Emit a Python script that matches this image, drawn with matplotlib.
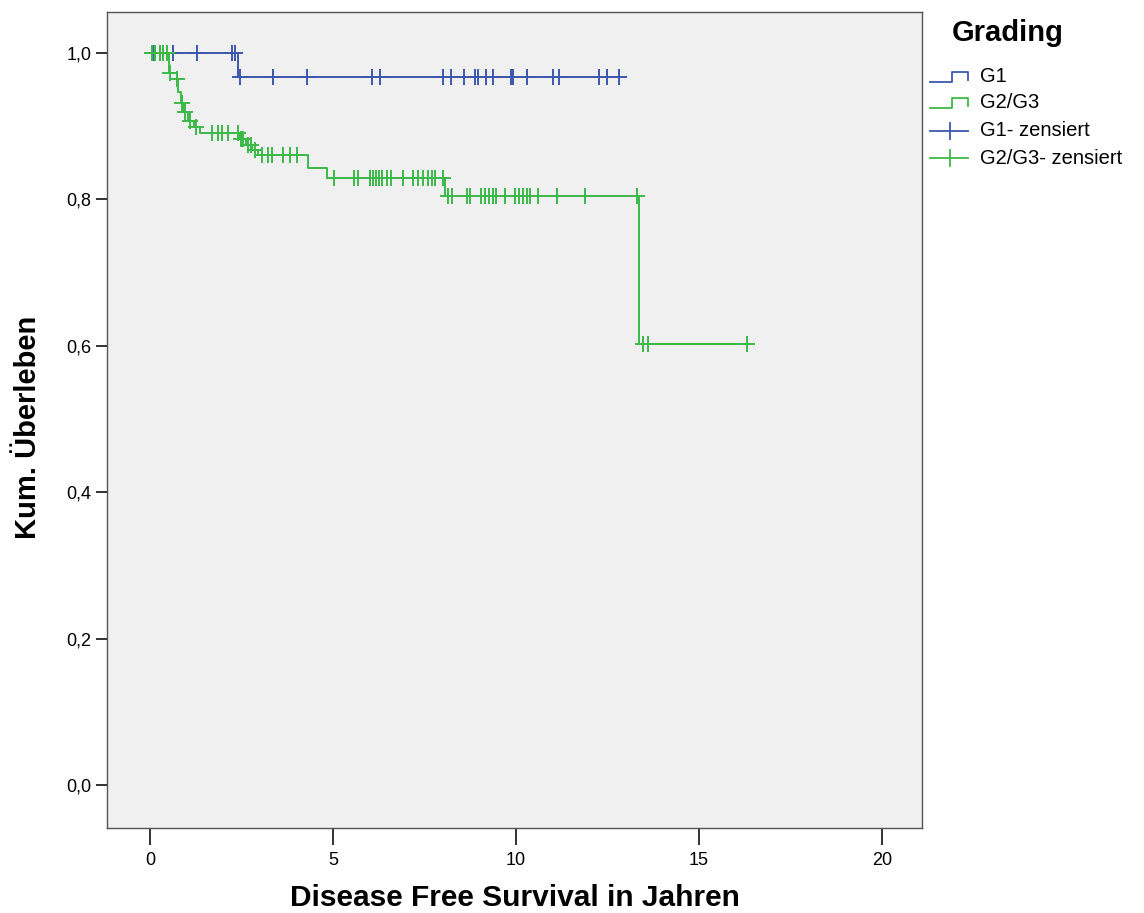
"""Kaplan-Meier: Disease Free Survival nach Grading (SPSS-Stil)."""
import numpy as np
import matplotlib
matplotlib.use("Agg")
import matplotlib.pyplot as plt  # noqa: E402

plt.rcParams["font.family"] = ["Liberation Sans", "DejaVu Sans"]

W, H = 1144, 913

# --- Daten ---
g1_event_t = [2.40]
g1_event_s = [0.967]
g1_end_t = 12.85
g1_cens_t = [0.08, 0.27, 0.63, 1.28, 2.24, 2.32, 2.46, 3.36, 4.29, 6.07, 6.28,
             8.00, 8.22, 8.58, 8.88, 8.96, 9.18, 9.37, 9.86, 9.92, 10.30,
             11.00, 11.17, 12.27, 12.49, 12.81]

g23_event_t = [0.52, 0.74, 0.77, 0.85, 0.92, 1.05, 1.20, 1.37,
               2.45, 2.62, 2.80, 2.95, 4.32, 4.84, 8.05, 13.36]
g23_event_s = [0.973, 0.965, 0.947, 0.932, 0.919, 0.907, 0.899, 0.891,
               0.883, 0.874, 0.867, 0.861, 0.843, 0.829, 0.805, 0.602]
g23_end_t = 16.40
g23_cens_t = [0.05, 0.14, 0.27, 0.36, 0.46, 0.55, 0.75, 0.88, 0.97, 1.10,
              1.25, 1.69, 1.86, 1.97, 2.13, 2.40, 2.50, 2.55, 2.68, 2.75,
              2.88, 3.05, 3.22, 3.33, 3.63, 3.83, 4.02,
              5.03, 5.57, 5.68, 6.01, 6.09, 6.17, 6.26, 6.34, 6.48, 6.58,
              6.91, 7.19, 7.32, 7.46, 7.60, 7.70, 7.79, 8.01,
              8.14, 8.25, 8.66, 8.74, 9.04, 9.15, 9.26, 9.37, 9.45, 9.70,
              9.97, 10.08, 10.19, 10.30, 10.38, 10.60, 11.12, 11.89, 13.31,
              13.47, 13.60, 16.31]

x_ticks = [0, 5, 10, 15, 20]
x_ticklabels = ["0", "5", "10", "15", "20"]
y_ticks = [0.0, 0.2, 0.4, 0.6, 0.8, 1.0]
y_ticklabels = ["0,0", "0,2", "0,4", "0,6", "0,8", "1,0"]

BLUE = "#3d57ad"
GREEN = "#3cb948"


def step_xy(event_t, event_s, end_t):
    xs = [0.0] + list(event_t) + [end_t]
    ys = [1.0] + list(event_s) + [event_s[-1]]
    return xs, ys


def surv_at(t, event_t, event_s):
    idx = np.searchsorted(event_t, t, side="right")
    levels = np.concatenate([[1.0], event_s])
    return levels[idx]


fig = plt.figure(figsize=(W / 100, H / 100), dpi=100)
fig.patch.set_facecolor("white")
ax = fig.add_axes([107 / W, 1 - 828 / H, (922 - 107) / W, (828 - 12) / H])
ax.set_facecolor("#f0f0f0")

for ev_t, ev_s, end_t, cens, col in [
    (g1_event_t, g1_event_s, g1_end_t, g1_cens_t, BLUE),
    (g23_event_t, g23_event_s, g23_end_t, g23_cens_t, GREEN),
]:
    xs, ys = step_xy(ev_t, ev_s, end_t)
    ax.step(xs, ys, where="post", color=col, lw=1.4)
    cy = surv_at(np.array(cens), np.array(ev_t), np.array(ev_s))
    ax.plot(cens, cy, ls="none", marker="+", ms=11, mew=1.4, color=col)

ax.set_xlim(-1.17, 21.09)
ax.set_ylim(-0.0587, 1.056)
ax.set_xticks(x_ticks)
ax.set_xticklabels(x_ticklabels, fontsize=13)
ax.set_yticks(y_ticks)
ax.set_yticklabels(y_ticklabels, fontsize=13)
ax.tick_params(axis="x", length=12, width=1.3, color="#222222", pad=5)
ax.tick_params(axis="y", length=8, width=1.3, color="#222222", pad=3)
for sp in ax.spines.values():
    sp.set_color("#555555")
    sp.set_linewidth(1.0)

ax.set_xlabel("Disease Free Survival in Jahren", fontsize=21.5,
              fontweight="bold")
ax.xaxis.set_label_coords(0.5, (828 - 898) / 816)
ax.xaxis.label.set_va("center")
ax.set_ylabel("Kum. Überleben", fontsize=21, fontweight="bold")
ax.yaxis.set_label_coords((28 - 107) / 815, (828 - 427) / 816)
ax.yaxis.label.set_va("center")

# --- Legende (manuell, Pixelkoordinaten) ---
lg = fig.add_axes([0, 0, 1, 1])
lg.set_xlim(0, W)
lg.set_ylim(H, 0)
lg.axis("off")
lg.text(952, 33, "Grading", fontsize=21, fontweight="bold", va="center")
for yc, col in [(77, BLUE), (103, GREEN)]:
    lg.plot([930, 952, 952, 968, 968], [yc + 5, yc + 5, yc - 5, yc - 5, yc + 3],
            color=col, lw=1.3)
for yc, col in [(131, BLUE), (158, GREEN)]:
    lg.plot([930, 968], [yc, yc], color=col, lw=1.3)
    lg.plot([950, 950], [yc - 8, yc + 8], color=col, lw=1.3)
for yc, txt in [(77, "G1"), (103, "G2/G3"), (131, "G1- zensiert"),
                (158, "G2/G3- zensiert")]:
    lg.text(980, yc, txt, fontsize=14.5, va="center")

fig.savefig("out.png", dpi=100)
